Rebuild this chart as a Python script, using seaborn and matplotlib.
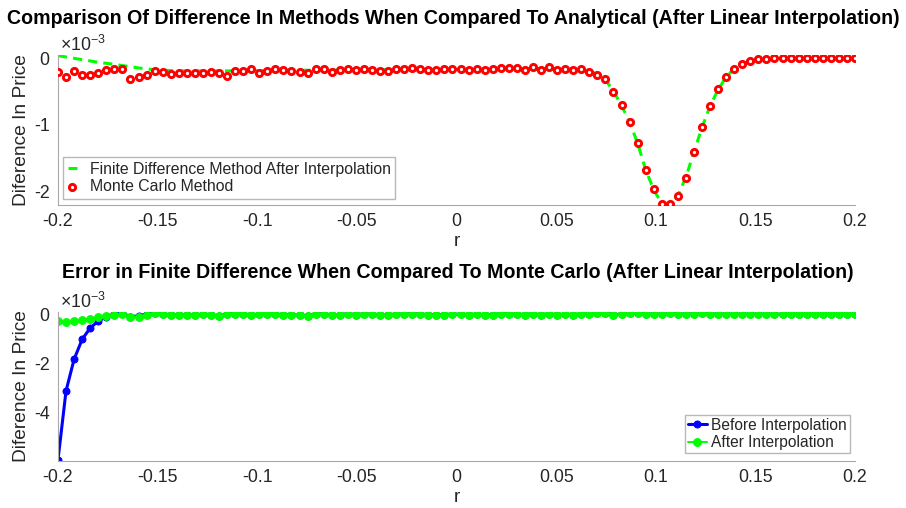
import numpy as np
import seaborn as sns
import matplotlib.pyplot as plt

# r grid (100 samples between -0.2 and 0.2)
r = np.linspace(-0.2, 0.2, 100)

# top panel: difference vs analytical, in units of 1e-3
monte_carlo = [
    -0.209, -0.285, -0.194, -0.255, -0.255, -0.224, -0.183, -0.168, -0.168, -0.305,
    -0.275, -0.244, -0.188, -0.203, -0.234, -0.224, -0.218, -0.218, -0.224, -0.209,
    -0.224, -0.260, -0.188, -0.198, -0.168, -0.218, -0.194, -0.163, -0.183, -0.194,
    -0.203, -0.214, -0.158, -0.168, -0.203, -0.183, -0.158, -0.178, -0.163, -0.173,
    -0.188, -0.194, -0.163, -0.163, -0.148, -0.163, -0.173, -0.173, -0.168, -0.163,
    -0.163, -0.173, -0.163, -0.178, -0.168, -0.148, -0.153, -0.153, -0.178, -0.132,
    -0.173, -0.137, -0.183, -0.160, -0.178, -0.168, -0.209, -0.244, -0.305, -0.515,
    -0.702, -0.957, -1.278, -1.687, -1.976, -2.196, -2.196, -2.081, -1.797, -1.409,
    -1.038, -0.718, -0.463, -0.279, -0.157, -0.081, -0.041, -0.015, -0.005, -0.002,
    0.001, 0.002, 0.001, 0.002, 0.002, 0.001, 0.002, 0.002, 0.001, 0.002,
]
fd_after = [
    0.040, 0.020, 0.000, -0.020, -0.040, -0.060, -0.075, -0.090, -0.110, -0.125,
    -0.145, -0.160, -0.172, -0.180, -0.185, -0.188, -0.190, -0.190, -0.190, -0.190,
    -0.190, -0.190, -0.188, -0.188, -0.186, -0.186, -0.185, -0.184, -0.183, -0.182,
    -0.181, -0.180, -0.179, -0.178, -0.177, -0.176, -0.175, -0.175, -0.174, -0.174,
    -0.173, -0.173, -0.172, -0.172, -0.171, -0.171, -0.170, -0.170, -0.170, -0.169,
    -0.169, -0.168, -0.168, -0.168, -0.167, -0.167, -0.166, -0.166, -0.166, -0.165,
    -0.165, -0.165, -0.165, -0.166, -0.170, -0.178, -0.195, -0.235, -0.320, -0.500,
    -0.710, -0.960, -1.280, -1.680, -1.980, -2.190, -2.190, -2.070, -1.790, -1.410,
    -1.040, -0.720, -0.470, -0.280, -0.155, -0.080, -0.040, -0.017, -0.006, -0.002,
    0.000, 0.001, 0.001, 0.001, 0.001, 0.001, 0.001, 0.001, 0.001, 0.001,
]

# bottom panel: FD error vs Monte Carlo, in units of 1e-3
err_after = [
    -0.25, -0.32, -0.25, -0.22, -0.18, -0.11, -0.05, -0.01, 0.02, -0.09,
    -0.09, -0.02, 0.05, 0.01, -0.02, -0.02, -0.02, -0.02, 0.01, -0.02,
    -0.05, 0.02, 0.02, 0.01, -0.02, 0.00, 0.02, 0.01, -0.02, -0.01,
    -0.03, -0.05, 0.02, 0.02, -0.03, -0.01, 0.03, -0.01, 0.02, 0.01,
    -0.02, -0.03, 0.01, 0.01, 0.03, 0.01, -0.01, -0.01, -0.01, 0.01,
    0.01, -0.01, 0.01, -0.02, -0.01, 0.03, 0.01, 0.01, -0.01, 0.03,
    -0.02, 0.03, -0.02, 0.01, -0.01, 0.02, 0.01, 0.05, 0.07, -0.01,
    0.02, 0.05, 0.07, 0.01, 0.02, 0.01, 0.05, 0.01, 0.02, 0.02,
    0.05, 0.01, 0.02, 0.01, 0.01, 0.01, 0.01, 0.01, 0.01, 0.01,
    0.01, 0.01, 0.01, 0.01, 0.01, 0.01, 0.01, 0.01, 0.01, 0.01,
]
err_before_head = [-5.90, -3.10, -1.82, -1.01, -0.55, -0.27, -0.09, 0.02, 0.05, -0.09,
                   -0.06, 0.02, 0.05]
err_before = err_before_head + err_after[len(err_before_head):]

x_ticks = [-0.2, -0.15, -0.1, -0.05, 0, 0.05, 0.1, 0.15, 0.2]
x_tick_labels = ["-0.2", "-0.15", "-0.1", "-0.05", "0", "0.05", "0.1", "0.15", "0.2"]

sns.set_theme(style="white")
plt.rcParams["font.family"] = ["Liberation Sans", "DejaVu Sans"]
plt.rcParams["axes.unicode_minus"] = False
plt.rcParams["mathtext.fontset"] = "custom"
plt.rcParams["mathtext.rm"] = "Liberation Sans"
plt.rcParams["mathtext.it"] = "Liberation Sans"

AX_GRAY = "#a8a8a8"
TXT = "#262626"

W, H = 906, 508
fig = plt.figure(figsize=(W / 100, H / 100), dpi=100)
ax1 = fig.add_axes([58 / W, 1 - 205 / H, 797 / W, 150 / H])
ax2 = fig.add_axes([58 / W, 1 - 460.5 / H, 797 / W, 148.5 / H])

# top panel
sns.lineplot(x=r, y=fd_after, ax=ax1, color="#00ff00", linewidth=2.2, sort=False,
             estimator=None, label="Finite Difference Method After Interpolation")
ax1.lines[-1].set_dashes((3, 2))
sns.scatterplot(x=r, y=monte_carlo, ax=ax1, marker="o", s=20, color="white",
                edgecolor="red", linewidth=2.1, zorder=3, label="Monte Carlo Method")
ax1.set_ylim(-2.21, 0.05)
ax1.set_yticks([-2, -1, 0])
ax1.legend(loc="lower left", bbox_to_anchor=(0.006, 0.04), borderaxespad=0,
           fontsize=11.4, handlelength=0.6, handletextpad=0.8, frameon=True,
           fancybox=False, edgecolor="#b8b8b8", framealpha=1, borderpad=0.3,
           labelspacing=0.15)

# bottom panel
sns.lineplot(x=r, y=err_before, ax=ax2, color="#0000ff", linewidth=2.2, marker="o",
             markersize=5, mec="#0000ff", sort=False, estimator=None,
             label="Before Interpolation")
sns.lineplot(x=r, y=err_after, ax=ax2, color="#00ff00", linewidth=1.4, marker="o",
             markersize=5.6, mec="#00ff00", sort=False, estimator=None,
             label="After Interpolation")
ax2.set_ylim(-5.93, 0.1)
ax2.set_yticks([-4, -2, 0])
ax2.legend(loc="lower right", bbox_to_anchor=(0.994, 0.05), borderaxespad=0,
           fontsize=11.2, handlelength=1.2, handletextpad=0.3, frameon=True,
           fancybox=False, edgecolor="#b8b8b8", framealpha=1, borderpad=0.2,
           labelspacing=0.15)

titles = ["Comparison Of Difference In Methods When Compared To Analytical (After Linear Interpolation)",
          "Error in Finite Difference When Compared To Monte Carlo (After Linear Interpolation)"]
title_y = [18, 272]
title_x = [453, 458]

for ax, t, tx, ty in zip([ax1, ax2], titles, title_x, title_y):
    ax.set_xlim(-0.2, 0.2)
    ax.set_xticks(x_ticks)
    ax.set_xticklabels(x_tick_labels)
    ax.tick_params(direction="in", length=5.8, width=0.8, color=AX_GRAY,
                   labelcolor=TXT, labelsize=12.8, pad=6)
    sns.despine(ax=ax)
    for s in ["left", "bottom"]:
        ax.spines[s].set_color(AX_GRAY)
        ax.spines[s].set_linewidth(0.8)
    ax.set_xlabel("r", fontsize=13.8, color=TXT)
    ax.set_ylabel("Diference In Price", fontsize=13.8, color=TXT)
    ax.xaxis.label.set_va("center")
    ax.yaxis.label.set_va("center")
    ax.xaxis.set_label_coords(0.5, -37 / 150)
    ax.yaxis.set_label_coords(-36 / 797, 0.5)
    ax.text(0.003, 1.0, r"$\times10^{-3}$", transform=ax.transAxes, ha="left",
            va="bottom", fontsize=12.8, color=TXT)
    fig.text(tx / W, 1 - ty / H, t, ha="center", va="center", fontsize=14.1,
             fontweight="bold", color="black")

fig.savefig("out.png", dpi=100)
